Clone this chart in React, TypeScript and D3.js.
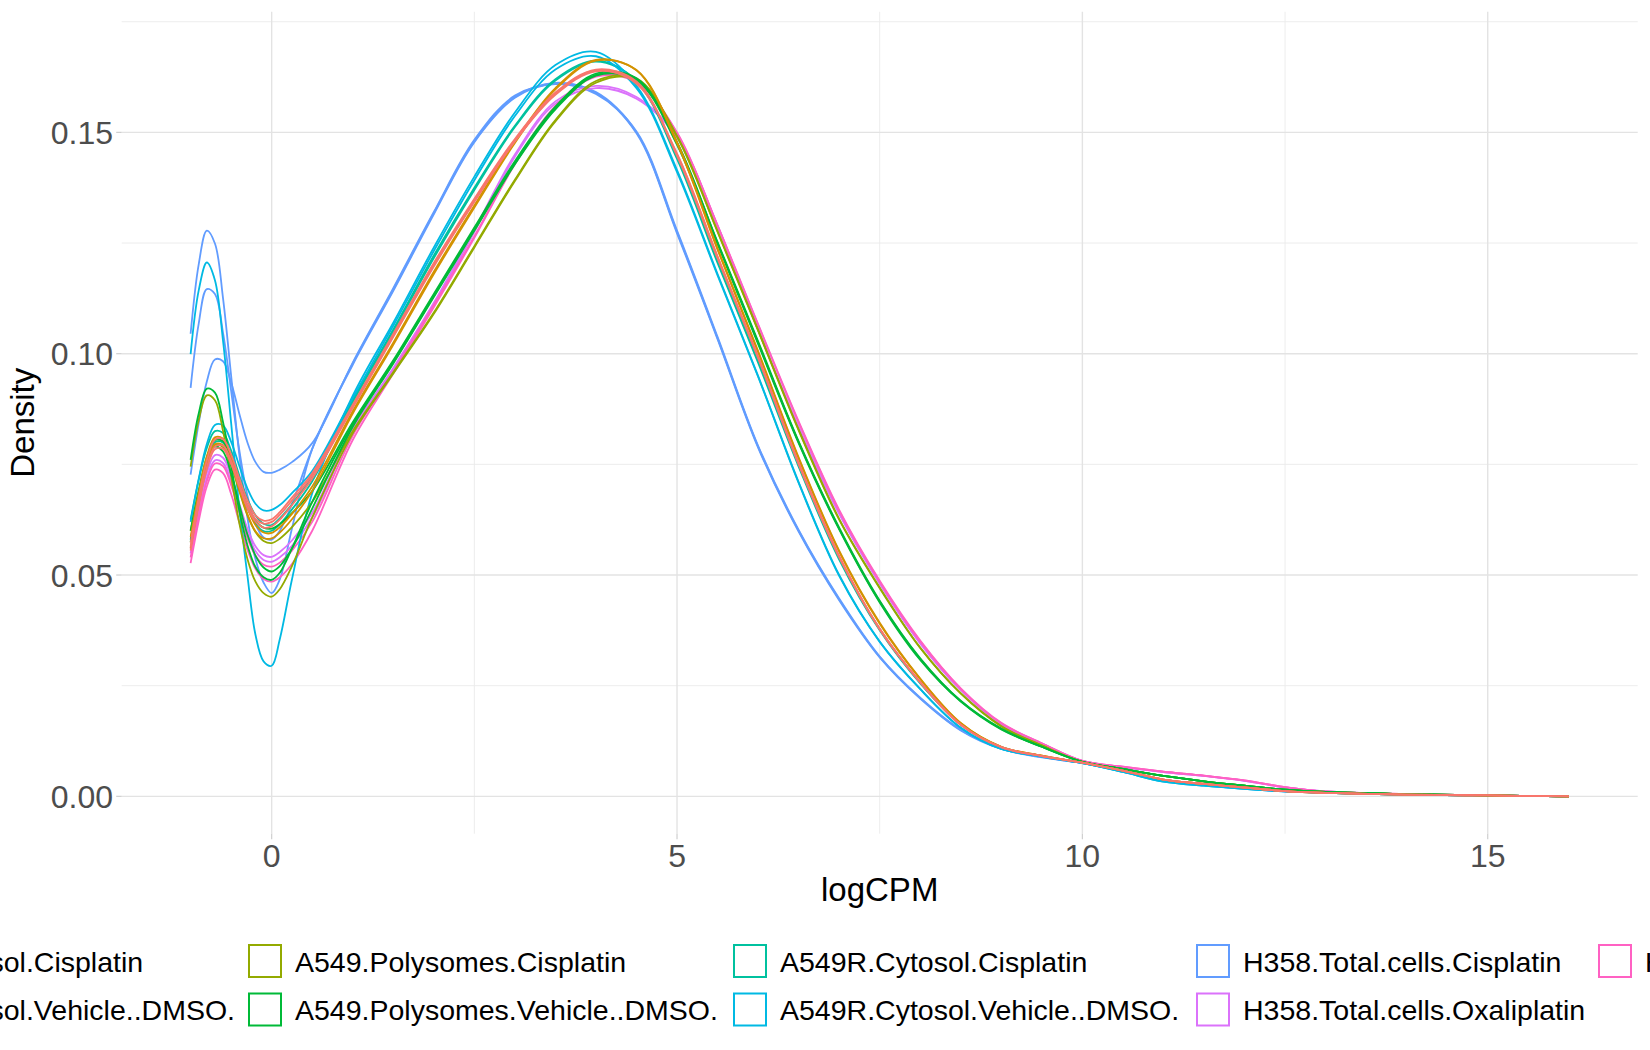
import React, { useMemo } from "react";
import * as d3 from "d3";

// logCPM positions at which each density curve was read
const LOGCPM_GRID = [-1, -0.9, -0.8, -0.7, -0.6, -0.5, -0.4, -0.3, -0.2, -0.1, 0, 0.1, 0.25, 0.5,
  1, 1.5, 2, 2.5, 3, 3.5, 4, 4.5, 5, 5.5, 6, 6.5, 7, 7.5, 8, 8.5, 9, 9.5, 10,
  10.5, 11, 11.5, 12, 12.5, 13, 14, 15, 16];

const GROUP_NAMES = [
  "A549.Cytosol.Cisplatin",
  "A549.Cytosol.Vehicle..DMSO.",
  "A549.Polysomes.Cisplatin",
  "A549.Polysomes.Vehicle..DMSO.",
  "A549R.Cytosol.Cisplatin",
  "A549R.Cytosol.Vehicle..DMSO.",
  "H358.Total.cells.Cisplatin",
  "H358.Total.cells.Oxaliplatin",
  "H358.Total.cells.Vehicle..DMSO.",
];
const GROUP_COLORS = ["#F8766D", "#D39200", "#93AA00", "#00BA38", "#00C19F", "#00B9E3", "#619CFF", "#DB72FB", "#FF61C3"];

const X_TICKS = [0, 5, 10, 15];
const X_MINOR = [2.5, 7.5, 12.5];
const Y_TICKS = [0, 0.05, 0.1, 0.15];
const Y_TICK_LABELS = ["0.00", "0.05", "0.10", "0.15"];
const Y_MINOR = [0.025, 0.075, 0.125, 0.175];

// Density values (one array per sample)
const H358_CIS_1 = [0.1045, 0.1202, 0.1278, 0.1249, 0.1125, 0.0950, 0.0773, 0.0631, 0.0536, 0.0483, 0.0459, 0.0490, 0.0605, 0.0785,
  0.0975, 0.1142, 0.1315, 0.1478, 0.1578, 0.1610, 0.1591, 0.1500, 0.1275, 0.1035, 0.0790, 0.0600, 0.0445, 0.0315, 0.0222, 0.0150, 0.0108, 0.0089, 0.0075,
  0.0056, 0.0035, 0.0026, 0.0018, 0.0011, 0.0008, 0.0004, 0.0002, 0.0000];
const H358_CIS_2 = [0.0923, 0.1068, 0.1146, 0.1135, 0.1047, 0.0916, 0.0783, 0.0680, 0.0615, 0.0585, 0.0580, 0.0600, 0.0660, 0.0785,
  0.0978, 0.1145, 0.1318, 0.1480, 0.1580, 0.1612, 0.1589, 0.1498, 0.1272, 0.1033, 0.0788, 0.0598, 0.0443, 0.0314, 0.0221, 0.0149, 0.0107, 0.0088, 0.0075,
  0.0056, 0.0035, 0.0025, 0.0017, 0.0011, 0.0008, 0.0004, 0.0002, 0.0000];
const H358_CIS_3 = [0.0727, 0.0843, 0.0937, 0.0987, 0.0983, 0.0935, 0.0865, 0.0800, 0.0755, 0.0733, 0.0731, 0.0738, 0.0755, 0.0798,
  0.0980, 0.1148, 0.1320, 0.1483, 0.1583, 0.1609, 0.1587, 0.1502, 0.1278, 0.1038, 0.0792, 0.0602, 0.0447, 0.0316, 0.0223, 0.0151, 0.0108, 0.0089, 0.0075,
  0.0057, 0.0036, 0.0026, 0.0018, 0.0011, 0.0008, 0.0004, 0.0002, 0.0000];
const H358_OXA_1 = [0.0560, 0.0655, 0.0731, 0.0771, 0.0765, 0.0723, 0.0662, 0.0605, 0.0565, 0.0545, 0.0541, 0.0552, 0.0578, 0.0640,
  0.0830, 0.0968, 0.1115, 0.1280, 0.1450, 0.1570, 0.1605, 0.1580, 0.1490, 0.1290, 0.1055, 0.0835, 0.0640, 0.0482, 0.0347, 0.0241, 0.0164, 0.0119, 0.0080,
  0.0066, 0.0055, 0.0046, 0.0035, 0.0020, 0.0011, 0.0005, 0.0002, 0.0000];
const H358_OXA_2 = [0.0549, 0.0643, 0.0719, 0.0759, 0.0753, 0.0711, 0.0651, 0.0594, 0.0554, 0.0534, 0.0530, 0.0540, 0.0566, 0.0630,
  0.0825, 0.0963, 0.1110, 0.1275, 0.1445, 0.1565, 0.1600, 0.1576, 0.1488, 0.1288, 0.1053, 0.0833, 0.0638, 0.0480, 0.0345, 0.0240, 0.0163, 0.0118, 0.0080,
  0.0066, 0.0055, 0.0046, 0.0035, 0.0020, 0.0011, 0.0005, 0.0002, 0.0000];
const H358_VEH_1 = [0.0540, 0.0635, 0.0712, 0.0752, 0.0746, 0.0703, 0.0642, 0.0584, 0.0544, 0.0523, 0.0519, 0.0528, 0.0555, 0.0620,
  0.0815, 0.0960, 0.1110, 0.1265, 0.1430, 0.1560, 0.1628, 0.1615, 0.1498, 0.1288, 0.1065, 0.0845, 0.0645, 0.0485, 0.0350, 0.0243, 0.0165, 0.0120, 0.0080,
  0.0067, 0.0056, 0.0047, 0.0036, 0.0021, 0.0011, 0.0005, 0.0002, 0.0000];
const H358_VEH_2 = [0.0527, 0.0622, 0.0700, 0.0738, 0.0730, 0.0683, 0.0619, 0.0558, 0.0514, 0.0491, 0.0485, 0.0495, 0.0525, 0.0600,
  0.0805, 0.0955, 0.1105, 0.1262, 0.1428, 0.1557, 0.1626, 0.1613, 0.1500, 0.1290, 0.1067, 0.0847, 0.0647, 0.0487, 0.0352, 0.0244, 0.0166, 0.0120, 0.0080,
  0.0067, 0.0056, 0.0047, 0.0036, 0.0021, 0.0011, 0.0005, 0.0002, 0.0000];
const A549R_CIS_1 = [0.0625, 0.0715, 0.0787, 0.0825, 0.0821, 0.0781, 0.0725, 0.0672, 0.0635, 0.0616, 0.0613, 0.0628, 0.0660, 0.0725,
  0.0895, 0.1055, 0.1222, 0.1375, 0.1515, 0.1620, 0.1662, 0.1615, 0.1440, 0.1205, 0.0980, 0.0745, 0.0535, 0.0375, 0.0255, 0.0162, 0.0111, 0.0091, 0.0076,
  0.0057, 0.0037, 0.0027, 0.0019, 0.0012, 0.0008, 0.0004, 0.0002, 0.0000];
const A549R_CIS_2 = [0.0580, 0.0678, 0.0757, 0.0800, 0.0799, 0.0760, 0.0704, 0.0652, 0.0616, 0.0599, 0.0600, 0.0615, 0.0648, 0.0712,
  0.0890, 0.1050, 0.1216, 0.1370, 0.1512, 0.1617, 0.1660, 0.1617, 0.1445, 0.1210, 0.0985, 0.0750, 0.0540, 0.0378, 0.0257, 0.0163, 0.0111, 0.0091, 0.0076,
  0.0057, 0.0037, 0.0027, 0.0019, 0.0012, 0.0008, 0.0004, 0.0002, 0.0000];
const A549R_VEH_1 = [0.0999, 0.1143, 0.1206, 0.1166, 0.1029, 0.0843, 0.0653, 0.0500, 0.0365, 0.0305, 0.0295, 0.0355, 0.0490, 0.0685,
  0.0905, 0.1070, 0.1240, 0.1400, 0.1545, 0.1652, 0.1682, 0.1605, 0.1415, 0.1180, 0.0950, 0.0710, 0.0500, 0.0350, 0.0243, 0.0155, 0.0107, 0.0090, 0.0075,
  0.0055, 0.0033, 0.0024, 0.0017, 0.0011, 0.0008, 0.0004, 0.0002, 0.0000];
const A549R_VEH_2 = [0.0620, 0.0717, 0.0796, 0.0839, 0.0838, 0.0801, 0.0747, 0.0696, 0.0661, 0.0646, 0.0647, 0.0658, 0.0685, 0.0735,
  0.0900, 0.1063, 0.1232, 0.1392, 0.1537, 0.1642, 0.1672, 0.1600, 0.1410, 0.1177, 0.0948, 0.0708, 0.0498, 0.0349, 0.0242, 0.0155, 0.0107, 0.0090, 0.0075,
  0.0055, 0.0033, 0.0024, 0.0017, 0.0011, 0.0008, 0.0004, 0.0002, 0.0000];
const A549_POL_CIS_1 = [0.0745, 0.0850, 0.0906, 0.0895, 0.0825, 0.0723, 0.0618, 0.0537, 0.0485, 0.0459, 0.0451, 0.0468, 0.0520, 0.0630,
  0.0820, 0.0955, 0.1090, 0.1240, 0.1390, 0.1525, 0.1612, 0.1620, 0.1490, 0.1275, 0.1052, 0.0827, 0.0625, 0.0470, 0.0335, 0.0232, 0.0158, 0.0115, 0.0078,
  0.0062, 0.0046, 0.0034, 0.0024, 0.0015, 0.0010, 0.0005, 0.0002, 0.0000];
const A549_POL_CIS_2 = [0.0600, 0.0688, 0.0759, 0.0795, 0.0789, 0.0748, 0.0690, 0.0635, 0.0597, 0.0577, 0.0572, 0.0582, 0.0608, 0.0665,
  0.0825, 0.0958, 0.1093, 0.1243, 0.1393, 0.1528, 0.1616, 0.1622, 0.1492, 0.1277, 0.1054, 0.0829, 0.0627, 0.0472, 0.0336, 0.0233, 0.0159, 0.0115, 0.0078,
  0.0062, 0.0046, 0.0034, 0.0024, 0.0015, 0.0010, 0.0005, 0.0002, 0.0000];
const A549_POL_VEH_1 = [0.0760, 0.0865, 0.0921, 0.0912, 0.0845, 0.0746, 0.0646, 0.0568, 0.0518, 0.0495, 0.0489, 0.0505, 0.0560, 0.0665,
  0.0840, 0.0980, 0.1130, 0.1280, 0.1430, 0.1555, 0.1630, 0.1620, 0.1475, 0.1250, 0.1025, 0.0800, 0.0605, 0.0440, 0.0310, 0.0215, 0.0152, 0.0112, 0.0078,
  0.0062, 0.0046, 0.0034, 0.0024, 0.0015, 0.0010, 0.0005, 0.0002, 0.0000];
const A549_POL_VEH_2 = [0.0600, 0.0691, 0.0766, 0.0805, 0.0802, 0.0764, 0.0710, 0.0658, 0.0623, 0.0607, 0.0605, 0.0615, 0.0640, 0.0690,
  0.0845, 0.0985, 0.1135, 0.1285, 0.1435, 0.1558, 0.1633, 0.1622, 0.1478, 0.1252, 0.1028, 0.0802, 0.0607, 0.0442, 0.0312, 0.0216, 0.0153, 0.0112, 0.0078,
  0.0062, 0.0046, 0.0034, 0.0024, 0.0015, 0.0010, 0.0005, 0.0002, 0.0000];
const A549_POL_VEH_3 = [0.0575, 0.0673, 0.0751, 0.0790, 0.0779, 0.0729, 0.0659, 0.0592, 0.0544, 0.0517, 0.0508, 0.0520, 0.0560, 0.0650,
  0.0835, 0.0978, 0.1128, 0.1278, 0.1428, 0.1552, 0.1628, 0.1618, 0.1472, 0.1248, 0.1022, 0.0798, 0.0603, 0.0438, 0.0308, 0.0214, 0.0151, 0.0112, 0.0078,
  0.0062, 0.0046, 0.0034, 0.0024, 0.0015, 0.0010, 0.0005, 0.0002, 0.0000];
const A549_CYT_VEH_1 = [0.0586, 0.0686, 0.0768, 0.0811, 0.0808, 0.0767, 0.0708, 0.0652, 0.0613, 0.0596, 0.0595, 0.0608, 0.0638, 0.0700,
  0.0870, 0.1025, 0.1185, 0.1335, 0.1480, 0.1600, 0.1664, 0.1640, 0.1475, 0.1235, 0.1003, 0.0763, 0.0553, 0.0390, 0.0265, 0.0165, 0.0112, 0.0092, 0.0076,
  0.0058, 0.0038, 0.0028, 0.0020, 0.0012, 0.0008, 0.0004, 0.0002, 0.0000];
const A549_CYT_VEH_2 = [0.0560, 0.0663, 0.0749, 0.0795, 0.0793, 0.0752, 0.0694, 0.0638, 0.0599, 0.0583, 0.0583, 0.0596, 0.0626, 0.0690,
  0.0865, 0.1020, 0.1180, 0.1330, 0.1476, 0.1597, 0.1662, 0.1641, 0.1478, 0.1238, 0.1006, 0.0766, 0.0555, 0.0392, 0.0266, 0.0166, 0.0112, 0.0092, 0.0076,
  0.0058, 0.0038, 0.0028, 0.0020, 0.0012, 0.0008, 0.0004, 0.0002, 0.0000];
const A549_CYT_CIS_1 = [0.0573, 0.0675, 0.0759, 0.0806, 0.0807, 0.0772, 0.0719, 0.0669, 0.0635, 0.0623, 0.0626, 0.0642, 0.0675, 0.0730,
  0.0885, 0.1045, 0.1205, 0.1350, 0.1485, 0.1590, 0.1642, 0.1615, 0.1450, 0.1218, 0.0992, 0.0752, 0.0542, 0.0378, 0.0258, 0.0162, 0.0111, 0.0091, 0.0076,
  0.0058, 0.0038, 0.0028, 0.0020, 0.0012, 0.0008, 0.0004, 0.0002, 0.0000];
const A549_CYT_CIS_2 = [0.0555, 0.0657, 0.0742, 0.0790, 0.0792, 0.0758, 0.0707, 0.0659, 0.0627, 0.0616, 0.0620, 0.0636, 0.0668, 0.0725,
  0.0880, 0.1040, 0.1200, 0.1345, 0.1480, 0.1585, 0.1638, 0.1612, 0.1447, 0.1215, 0.0990, 0.0750, 0.0540, 0.0377, 0.0257, 0.0161, 0.0111, 0.0091, 0.0076,
  0.0058, 0.0038, 0.0028, 0.0020, 0.0012, 0.0008, 0.0004, 0.0002, 0.0000];
const A549_CYT_CIS_3 = [0.0564, 0.0661, 0.0739, 0.0784, 0.0785, 0.0751, 0.0700, 0.0652, 0.0621, 0.0607, 0.0610, 0.0625, 0.0658, 0.0718,
  0.0878, 0.1038, 0.1197, 0.1343, 0.1480, 0.1587, 0.1640, 0.1610, 0.1452, 0.1220, 0.0994, 0.0754, 0.0544, 0.0379, 0.0258, 0.0162, 0.0111, 0.0091, 0.0076,
  0.0058, 0.0038, 0.0028, 0.0020, 0.0012, 0.0008, 0.0004, 0.0002, 0.0000];

// drawing order (later drawn on top); group = index into GROUP_NAMES
const SAMPLES = [
  { group: 6, values: H358_CIS_1 },
  { group: 6, values: H358_CIS_2 },
  { group: 6, values: H358_CIS_3 },
  { group: 7, values: H358_OXA_1 },
  { group: 7, values: H358_OXA_2 },
  { group: 8, values: H358_VEH_1 },
  { group: 8, values: H358_VEH_2 },
  { group: 4, values: A549R_CIS_1 },
  { group: 4, values: A549R_CIS_2 },
  { group: 5, values: A549R_VEH_1 },
  { group: 5, values: A549R_VEH_2 },
  { group: 2, values: A549_POL_CIS_1 },
  { group: 2, values: A549_POL_CIS_2 },
  { group: 3, values: A549_POL_VEH_1 },
  { group: 3, values: A549_POL_VEH_2 },
  { group: 3, values: A549_POL_VEH_3 },
  { group: 1, values: A549_CYT_VEH_1 },
  { group: 1, values: A549_CYT_VEH_2 },
  { group: 0, values: A549_CYT_CIS_1 },
  { group: 0, values: A549_CYT_CIS_2 },
  { group: 0, values: A549_CYT_CIS_3 },
];

const W = 1650;
const H = 1050;
const PANEL = { left: 121.7, right: 1637.7, top: 11.8, bottom: 833.7 };
const X_DOMAIN: [number, number] = [-1.85, 16.85];
const Y_DOMAIN: [number, number] = [-0.00844, 0.17724];
const FONT = "'Liberation Sans', Arial, Helvetica, sans-serif";
const TICK_FS = 32;
const TITLE_FS = 33;
const LEGEND_FS = 28.5;

function measureText(text: string, size: number): number {
  const c = document.createElement("canvas").getContext("2d");
  if (!c) return text.length * size * 0.5;
  c.font = `${size}px 'Liberation Sans', Arial, sans-serif`;
  return c.measureText(text).width;
}

export default function App() {
  const x = d3.scaleLinear().domain(X_DOMAIN).range([PANEL.left, PANEL.right]);
  const y = d3.scaleLinear().domain(Y_DOMAIN).range([PANEL.bottom, PANEL.top]);
  const line = d3
    .line<number>()
    .x((_, i) => x(LOGCPM_GRID[i]))
    .y((d) => y(d))
    .curve(d3.curveCatmullRom.alpha(0.5));

  // legend: 2 rows, filled column-wise
  const legendCols = useMemo(() => {
    const keyCols = [0, 248, 733, 1196, 1598];
    const col1Max = Math.max(measureText(GROUP_NAMES[0], LEGEND_FS), measureText(GROUP_NAMES[1], LEGEND_FS));
    keyCols[0] = 248 - 13 - col1Max - 47;
    return keyCols;
  }, []);
  const rowCenters = [961.5, 1010];
  const keySize = 33;

  return (
    <svg
      width={W}
      height={H}
      style={{ position: "absolute", left: 0, top: 0, background: "#ffffff" }}
      fontFamily={FONT}
    >
      <rect x={0} y={0} width={W} height={H} fill="#ffffff" />
      {/* minor grid */}
      {X_MINOR.map((v) => (
        <line key={`xm${v}`} x1={x(v)} x2={x(v)} y1={PANEL.top} y2={PANEL.bottom} stroke="#ebebeb" strokeWidth={0.9} />
      ))}
      {Y_MINOR.map((v) => (
        <line key={`ym${v}`} x1={PANEL.left} x2={PANEL.right} y1={y(v)} y2={y(v)} stroke="#ebebeb" strokeWidth={0.9} />
      ))}
      {/* major grid */}
      {X_TICKS.map((v) => (
        <line key={`xg${v}`} x1={x(v)} x2={x(v)} y1={PANEL.top} y2={PANEL.bottom} stroke="#e3e3e3" strokeWidth={1.4} />
      ))}
      {Y_TICKS.map((v) => (
        <line key={`yg${v}`} x1={PANEL.left} x2={PANEL.right} y1={y(v)} y2={y(v)} stroke="#e3e3e3" strokeWidth={1.4} />
      ))}
      {/* density curves */}
      <g fill="none" strokeWidth={1.8} strokeLinejoin="round">
        {SAMPLES.map((s, i) => (
          <path key={i} d={line(s.values) || ""} stroke={GROUP_COLORS[s.group]} />
        ))}
      </g>
      {/* axis ticks */}
      {X_TICKS.map((v) => (
        <line key={`xt${v}`} x1={x(v)} x2={x(v)} y1={PANEL.bottom} y2={PANEL.bottom + 5.5} stroke="#cfcfcf" strokeWidth={1.2} />
      ))}
      {Y_TICKS.map((v) => (
        <line key={`yt${v}`} x1={PANEL.left - 5.5} x2={PANEL.left} y1={y(v)} y2={y(v)} stroke="#cfcfcf" strokeWidth={1.2} />
      ))}
      {/* tick labels */}
      {X_TICKS.map((v) => (
        <text key={`xl${v}`} x={x(v)} y={867} textAnchor="middle" fontSize={TICK_FS} fill="#4d4d4d">
          {String(v)}
        </text>
      ))}
      {Y_TICKS.map((v, i) => (
        <text key={`yl${v}`} x={113} y={y(v)} dy="0.36em" textAnchor="end" fontSize={TICK_FS} fill="#4d4d4d">
          {Y_TICK_LABELS[i]}
        </text>
      ))}
      {/* axis titles */}
      <text x={(PANEL.left + PANEL.right) / 2} y={901} textAnchor="middle" fontSize={TITLE_FS} fill="#000000">
        logCPM
      </text>
      <text
        transform={`translate(34, ${(PANEL.top + PANEL.bottom) / 2}) rotate(-90)`}
        textAnchor="middle"
        fontSize={TITLE_FS}
        fill="#000000"
      >
        Density
      </text>
      {/* legend */}
      {GROUP_NAMES.map((name, gi) => {
        const col = Math.floor(gi / 2);
        const row = gi % 2;
        const kx = legendCols[col];
        const cy = rowCenters[row];
        return (
          <g key={name}>
            <rect
              x={kx + 1}
              y={cy - keySize / 2}
              width={keySize - 1}
              height={keySize - 1}
              fill="#ffffff"
              stroke={GROUP_COLORS[gi]}
              strokeWidth={2}
            />
            <text x={kx + 47} y={cy} dy="0.36em" fontSize={LEGEND_FS} fill="#000000">
              {name}
            </text>
          </g>
        );
      })}
    </svg>
  );
}
